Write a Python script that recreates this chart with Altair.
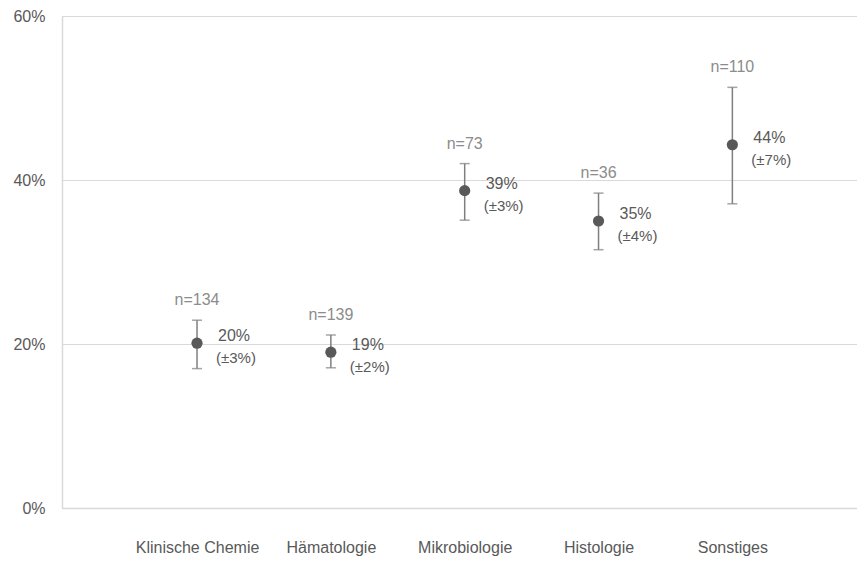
import altair as alt
import pandas as pd

categories = ["Klinische Chemie", "Hämatologie", "Mikrobiologie", "Histologie", "Sonstiges"]
values = [20.1, 19.0, 38.7, 35.0, 44.3]
lower = [17.0, 17.1, 35.1, 31.5, 37.1]
upper = [22.9, 21.1, 42.0, 38.4, 51.3]
n_counts = [134, 139, 73, 36, 110]
value_labels = ["20%", "19%", "39%", "35%", "44%"]
error_labels = ["(±3%)", "(±2%)", "(±3%)", "(±4%)", "(±7%)"]

df = pd.DataFrame({
    "cat": categories,
    "value": values,
    "lower": lower,
    "upper": upper,
    "n_label": ["n=" + str(n) for n in n_counts],
    "value_label": value_labels,
    "error_label": error_labels,
})

FONT = "Liberation Sans"
DARK = "#595959"
LIGHT = "#8c8c8c"
GRID = "#d9d9d9"

x = alt.X(
    "cat:N",
    sort=categories,
    scale=alt.Scale(type="point", padding=0.97, align=0.52),
    axis=alt.Axis(
        title=None, labelAngle=0, ticks=False, domain=True, domainColor=GRID,
        domainWidth=1.5, labelPadding=31, labelFontSize=16, labelColor=DARK,
        labelFont=FONT, grid=False,
    ),
)

yscale = alt.Scale(domain=[0, 60], nice=False)
yaxis = alt.Axis(
    title=None, values=[0, 20, 40, 60], labelExpr="datum.value + '%'",
    ticks=False, labelPadding=17, labelFontSize=16, labelColor=DARK,
    labelFont=FONT, gridColor=GRID, gridWidth=1.2, domainColor=GRID, domainWidth=1.5,
)

base = alt.Chart(df)

rule = base.mark_rule(color="#7f7f7f", strokeWidth=1.5).encode(
    x=x, y=alt.Y("lower:Q", scale=yscale, axis=yaxis), y2="upper:Q"
)
cap_low = base.mark_tick(color="#7f7f7f", thickness=1.5, size=10).encode(
    x=x, y=alt.Y("lower:Q", scale=yscale)
)
cap_high = base.mark_tick(color="#7f7f7f", thickness=1.5, size=10).encode(
    x=x, y=alt.Y("upper:Q", scale=yscale)
)
points = base.mark_circle(size=125, color=DARK, opacity=1).encode(
    x=x, y=alt.Y("value:Q", scale=yscale)
)
n_text = base.mark_text(dy=-20, color=LIGHT, fontSize=16, font=FONT, baseline="middle").encode(
    x=x, y=alt.Y("upper:Q", scale=yscale), text="n_label:N"
)
val_text = base.mark_text(align="left", dx=21, dy=-7, color=DARK, fontSize=16, font=FONT, baseline="middle").encode(
    x=x, y=alt.Y("value:Q", scale=yscale), text="value_label:N"
)
err_text = base.mark_text(align="left", dx=19, dy=15, color=DARK, fontSize=15, font=FONT, baseline="middle").encode(
    x=x, y=alt.Y("value:Q", scale=yscale), text="error_label:N"
)

chart = (
    alt.layer(rule, cap_low, cap_high, points, n_text, val_text, err_text)
    .properties(
        width=795,
        height=492,
        autosize=alt.AutoSizeParams(type="none"),
        padding={"left": 54, "top": 8, "right": 0, "bottom": 50},
    )
    .configure_view(stroke=None)
    .configure(font=FONT, background="white")
)

chart.save("out.html", embed_options={"renderer": "svg", "actions": False})
